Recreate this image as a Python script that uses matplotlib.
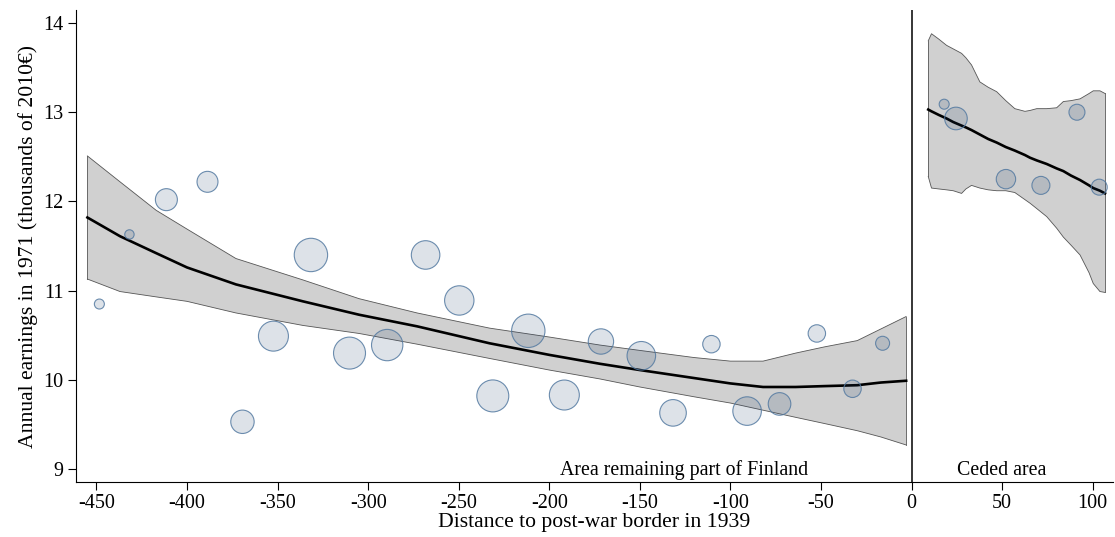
import numpy as np
import matplotlib.pyplot as plt

plt.rcParams['font.family'] = ['Liberation Serif', 'DejaVu Serif']

# bubbles: distance to border, earnings, weight (bubble area)
dist_left = [-448.4, -431.8, -411.4, -388.7, -369.4, -352.3, -331.6, -310.3, -289.5, -268.3,
             -249.7, -231.2, -211.6, -191.7, -171.5, -149.2, -131.7, -110.5, -90.8, -72.9,
             -52.3, -32.6, -16.0]
earn_left = [10.85, 11.63, 12.02, 12.22, 9.53, 10.49, 11.40, 10.30, 10.39, 11.40,
             10.89, 9.82, 10.55, 9.83, 10.43, 10.27, 9.63, 10.40, 9.65, 9.73,
             10.52, 9.90, 10.41]
wt_left = [25, 22, 121, 110, 137, 225, 279, 256, 246, 204,
           216, 256, 279, 225, 161, 204, 177, 76, 204, 128,
           76, 76, 49]

dist_right = [18.0, 24.5, 52.1, 71.4, 91.3, 103.6]
earn_right = [13.09, 12.93, 12.25, 12.18, 13.00, 12.16]
wt_right = [25, 128, 94, 81, 64, 64]

# fitted line and confidence band, remaining area
fx_left = [-455, -437, -417, -400, -373, -336, -305, -273, -233, -200,
           -172, -150, -120, -100, -82, -64, -48, -30, -17, -3]
fit_left = [11.82, 11.61, 11.42, 11.26, 11.07, 10.88, 10.73, 10.60, 10.41, 10.28,
            10.18, 10.11, 10.02, 9.96, 9.92, 9.92, 9.93, 9.94, 9.97, 9.99]
hi_left = [12.51, 12.22, 11.90, 11.69, 11.36, 11.12, 10.91, 10.75, 10.58, 10.48,
           10.39, 10.33, 10.25, 10.21, 10.21, 10.30, 10.37, 10.44, 10.57, 10.71]
lo_left = [11.13, 10.99, 10.93, 10.88, 10.75, 10.61, 10.52, 10.40, 10.24, 10.11,
           10.01, 9.92, 9.81, 9.74, 9.66, 9.58, 9.51, 9.43, 9.36, 9.27]

# fitted line and confidence band, ceded area
fx_right = [9.2, 11, 15, 19.3, 23, 27.6, 30, 33.1, 37.7, 42.3, 47, 52, 57, 62.6, 65.4,
            69.1, 74.6, 80.1, 83.8, 88, 93, 98, 100.3, 104, 106.8]
fit_right = [13.03, 13.01, 12.97, 12.93, 12.89, 12.85, 12.83, 12.80, 12.75, 12.70, 12.66,
             12.61, 12.57, 12.52, 12.49, 12.46, 12.42, 12.37, 12.34, 12.29, 12.24, 12.18,
             12.15, 12.12, 12.09]
hi_right = [13.80, 13.88, 13.82, 13.75, 13.71, 13.66, 13.61, 13.53, 13.34, 13.28, 13.23,
            13.13, 13.04, 13.01, 13.02, 13.04, 13.04, 13.05, 13.12, 13.13, 13.15, 13.21,
            13.24, 13.24, 13.21]
lo_right = [12.28, 12.15, 12.14, 12.13, 12.12, 12.09, 12.14, 12.18, 12.15, 12.13, 12.12,
            12.12, 12.10, 12.02, 11.98, 11.92, 11.83, 11.70, 11.60, 11.51, 11.40, 11.20,
            11.08, 10.99, 10.98]

xticks = [-450, -400, -350, -300, -250, -200, -150, -100, -50, 0, 50, 100]
yticks = [9, 10, 11, 12, 13, 14]

fig = plt.figure(figsize=(11.15, 5.37), dpi=100)
ax = fig.add_axes([76 / 1115, 55 / 537, (1113 - 76) / 1115, 472 / 537])

for fx, fit, lo, hi in [(fx_left, fit_left, lo_left, hi_left),
                        (fx_right, fit_right, lo_right, hi_right)]:
    ax.fill_between(fx, lo, hi, facecolor='#d0d0d0', edgecolor='none', zorder=1)
    ax.plot(fx, hi, color='#555555', lw=0.6, zorder=2)
    ax.plot(fx, lo, color='#555555', lw=0.6, zorder=2)
    ax.plot([fx[0], fx[0]], [lo[0], hi[0]], color='#555555', lw=0.6, zorder=2)
    ax.plot([fx[-1], fx[-1]], [lo[-1], hi[-1]], color='#555555', lw=0.6, zorder=2)
    ax.plot(fx, fit, color='black', lw=1.9, zorder=3)

face = (0.12, 0.25, 0.42, 0.15)
edge = (0.33, 0.48, 0.63, 0.85)
for xs, ys, ws in [(dist_left, earn_left, wt_left), (dist_right, earn_right, wt_right)]:
    ax.scatter(xs, ys, s=np.array(ws) * 2.07, facecolor=face, edgecolor=edge,
               linewidth=0.8, zorder=4)

ax.axvline(0, color='black', lw=1.1, zorder=5)

ax.set_xlim(-461.3, 111.2)
ax.set_ylim(8.855, 14.146)
ax.set_xticks(xticks)
ax.set_yticks(yticks)
ax.set_xticklabels([str(t) for t in xticks])
ax.tick_params(labelsize=14.5, length=6, width=0.8, pad=3)
ax.spines['top'].set_visible(False)
ax.spines['right'].set_visible(False)
ax.spines['left'].set_linewidth(0.8)
ax.spines['bottom'].set_linewidth(0.8)

ax.set_xlabel('Distance to post-war border in 1939', fontsize=15.6, labelpad=0)
ax.set_ylabel('Annual earnings in 1971 (thousands of 2010\u20ac)', fontsize=15.6, labelpad=4)

ax.text(-125.7, 8.93, 'Area remaining part of Finland', ha='center', va='baseline', fontsize=14.3)
ax.text(50, 8.93, 'Ceded area', ha='center', va='baseline', fontsize=14.3)

fig.savefig('out.png', dpi=100)
